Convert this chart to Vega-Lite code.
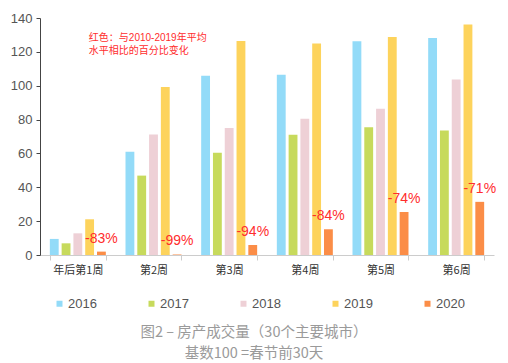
{
  "$schema": "https://vega.github.io/schema/vega-lite/v6.json",
  "width": 454,
  "height": 237,
  "autosize": "none",
  "padding": {"left": 40, "top": 18, "right": 14, "bottom": 108},
  "background": "white",
  "config": {
    "font": "Liberation Sans, Noto Sans CJK SC",
    "view": {"stroke": null}
  },
  "title": {
    "text": ["图2 – 房产成交量（30个主要城市）", "基数100 =春节前30天"],
    "orient": "bottom",
    "anchor": "middle",
    "dx": -13,
    "offset": 15,
    "color": "#9a9a9a",
    "fontSize": 14.5,
    "fontWeight": "normal",
    "lineHeight": 21,
    "font": "Noto Sans CJK SC"
  },
  "datasets": {
    "bars": [
      {"week": "年后第1周", "year": "2016", "value": 9.5},
      {"week": "年后第1周", "year": "2017", "value": 6.9},
      {"week": "年后第1周", "year": "2018", "value": 12.8},
      {"week": "年后第1周", "year": "2019", "value": 21.1},
      {"week": "年后第1周", "year": "2020", "value": 2.0, "label": "-83%"},
      {"week": "第2周", "year": "2016", "value": 61.0},
      {"week": "第2周", "year": "2017", "value": 46.9},
      {"week": "第2周", "year": "2018", "value": 71.2},
      {"week": "第2周", "year": "2019", "value": 99.2},
      {"week": "第2周", "year": "2020", "value": 0.3, "label": "-99%"},
      {"week": "第3周", "year": "2016", "value": 105.9},
      {"week": "第3周", "year": "2017", "value": 60.4},
      {"week": "第3周", "year": "2018", "value": 75.0},
      {"week": "第3周", "year": "2019", "value": 126.4},
      {"week": "第3周", "year": "2020", "value": 5.9, "label": "-94%"},
      {"week": "第4周", "year": "2016", "value": 106.5},
      {"week": "第4周", "year": "2017", "value": 71.0},
      {"week": "第4周", "year": "2018", "value": 80.5},
      {"week": "第4周", "year": "2019", "value": 125.0},
      {"week": "第4周", "year": "2020", "value": 15.2, "label": "-84%"},
      {"week": "第5周", "year": "2016", "value": 126.2},
      {"week": "第5周", "year": "2017", "value": 75.5},
      {"week": "第5周", "year": "2018", "value": 86.4},
      {"week": "第5周", "year": "2019", "value": 128.8},
      {"week": "第5周", "year": "2020", "value": 25.4, "label": "-74%"},
      {"week": "第6周", "year": "2016", "value": 128.2},
      {"week": "第6周", "year": "2017", "value": 73.6},
      {"week": "第6周", "year": "2018", "value": 103.6},
      {"week": "第6周", "year": "2019", "value": 136.1},
      {"week": "第6周", "year": "2020", "value": 31.4, "label": "-71%"}
    ],
    "note": [
      {"week": "年后第1周", "value": 128, "text": "红色：与2010-2019年平均\n水平相比的百分比变化"}
    ]
  },
  "encoding": {
    "x": {
      "field": "week",
      "type": "nominal",
      "sort": null,
      "scale": {"paddingInner": 0.26, "paddingOuter": 0.13},
      "axis": {
        "title": null,
        "labelAngle": 0,
        "labelFontSize": 11,
        "labelColor": "#333333",
        "labelFont": "Noto Sans CJK SC",
        "labelPadding": 4,
        "domainColor": "#cccccc",
        "tickColor": "#cccccc",
        "tickBand": "extent",
        "tickSize": 5
      }
    },
    "y": {
      "field": "value",
      "type": "quantitative",
      "scale": {"domain": [0, 140]},
      "axis": {
        "title": null,
        "values": [0, 20, 40, 60, 80, 100, 120, 140],
        "grid": false,
        "labelFontSize": 13,
        "labelColor": "#555555",
        "labelPadding": 4,
        "domainColor": "#444444",
        "tickColor": "#444444",
        "tickSize": 4
      }
    }
  },
  "layer": [
    {
      "data": {"name": "bars"},
      "mark": {"type": "bar"},
      "encoding": {
        "xOffset": {"field": "year", "type": "nominal", "scale": {"paddingInner": 0.25, "paddingOuter": 0}},
        "color": {
          "field": "year",
          "type": "nominal",
          "scale": {
            "domain": ["2016", "2017", "2018", "2019", "2020"],
            "range": ["#93dbf8", "#c7da5c", "#eed0d6", "#fdd35c", "#fb8d47"]
          },
          "legend": {
            "title": null,
            "orient": "none",
            "direction": "horizontal",
            "columns": 5,
            "legendX": 13,
            "legendY": 279,
            "symbolType": "square",
            "symbolSize": 36,
            "symbolStrokeWidth": 0,
            "labelFontSize": 13,
            "labelColor": "#555555",
            "labelOffset": 2,
            "columnPadding": 48,
            "padding": 0
          }
        }
      }
    },
    {
      "data": {"name": "bars"},
      "transform": [{"filter": "datum.year === '2020'"}],
      "mark": {"type": "text", "color": "#ff2d2d", "fontSize": 14, "dy": -13, "baseline": "middle"},
      "encoding": {
        "xOffset": {"field": "year", "type": "nominal", "scale": {"domain": ["2016", "2017", "2018", "2019", "2020"], "paddingInner": 0.25, "paddingOuter": 0}},
        "text": {"field": "label"}
      }
    },
    {
      "data": {"name": "note"},
      "mark": {"type": "text", "color": "#ff2d2d", "fontSize": 10, "align": "left", "baseline": "middle", "dx": 11, "lineBreak": "\n", "lineHeight": 13},
      "encoding": {
        "text": {"field": "text"}
      }
    }
  ]
}
